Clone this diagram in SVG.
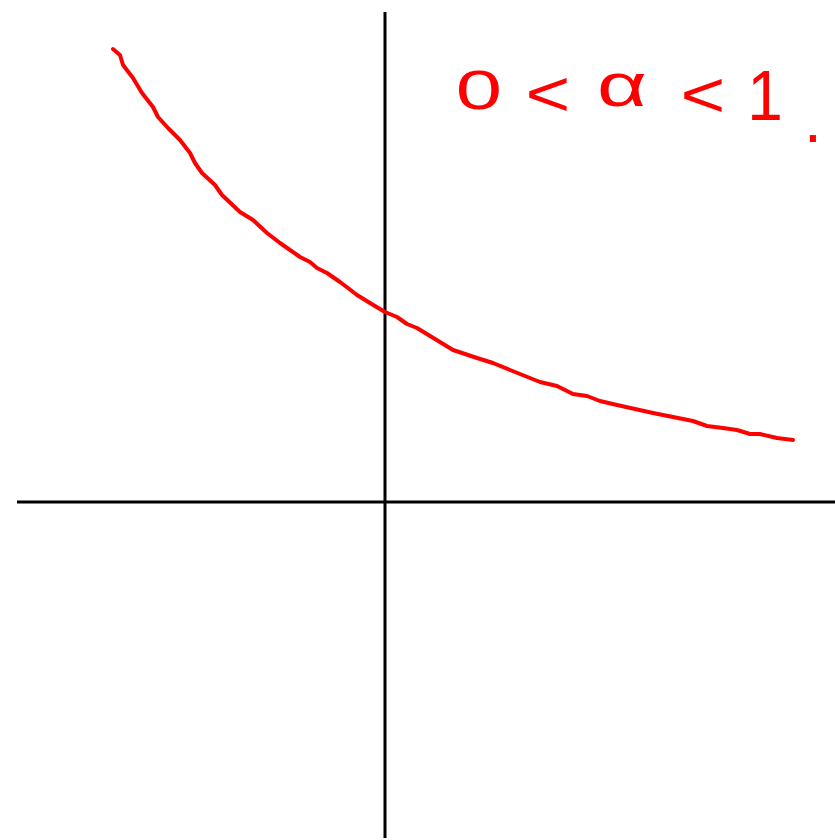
<svg xmlns="http://www.w3.org/2000/svg" width="835" height="840" viewBox="0 0 835 840">
<style>
.axis{stroke:#000;stroke-width:3;fill:none}
.curve{stroke:#ff0000;stroke-width:4;fill:none;stroke-linecap:round;stroke-linejoin:round}
.lbl{fill:#ff0000;font-family:"Liberation Sans",Arial,sans-serif;font-size:64px}
</style>
<rect width="835" height="840" fill="#fff"/>
<g id="axes">
<line class="axis" x1="385" y1="12" x2="385" y2="838"/>
<line class="axis" x1="17" y1="502" x2="835" y2="502"/>
</g>
<g id="curve">
<path class="curve" d="M113,49 L120,55 L123,65 L133,78 L142,93 L153,107 L158,117 L168,128 L180,140 L190,153 L195,163 L202,173 L215,185 L222,195 L240,212 L253,220 L267,233 L280,243 L300,257 L310,262 L317,268 L327,273 L340,282 L348,288 L357,295 L370,303 L385,312 L397,317 L407,324 L417,328 L453,350 L477,358 L493,363 L510,370 L540,382 L557,386 L573,394 L587,396 L600,401 L617,405 L653,413 L693,421 L707,426 L723,428 L737,430 L750,434 L760,434 L777,438 L793,440"/>
</g>
<g id="label">
<text class="lbl" text-anchor="middle" transform="translate(479,109) scale(1.3,0.88)">0</text>
<text class="lbl" text-anchor="middle" transform="translate(548,116) scale(1.2,1)">&lt;</text>
<text class="lbl" text-anchor="middle" transform="translate(622,106) scale(1.35,0.95)">α</text>
<text class="lbl" text-anchor="middle" transform="translate(703,117) scale(1.2,1)">&lt;</text>
<text class="lbl" text-anchor="middle" transform="translate(765,120) scale(1,1.1)">1</text>
<text class="lbl" x="813" y="142" text-anchor="middle" font-size="30">.</text>
</g>
</svg>
